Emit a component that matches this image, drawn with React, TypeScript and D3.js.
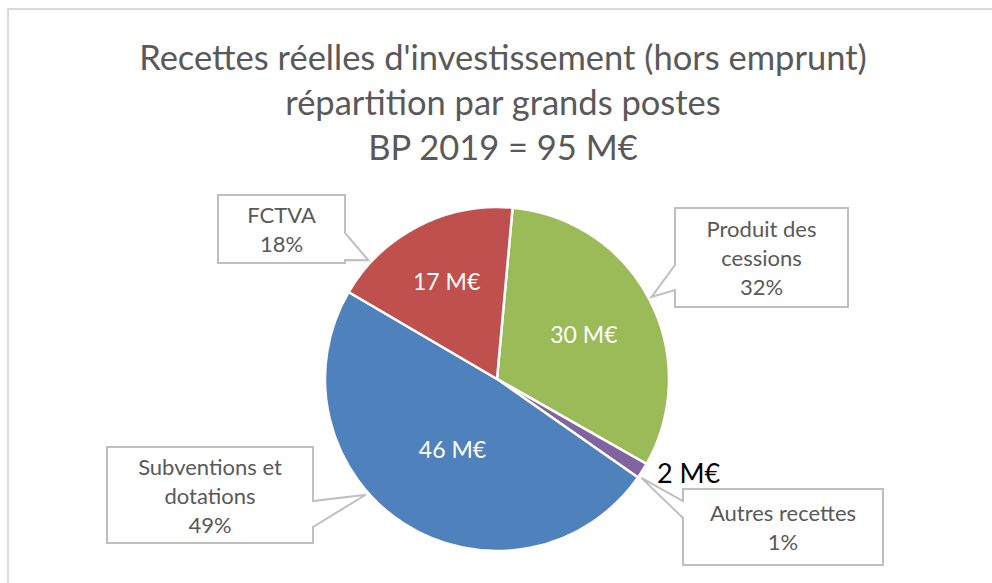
import React from 'react';
import * as d3 from 'd3';

// chart data
const titleLines = [
  "Recettes réelles d'investissement (hors emprunt)",
  'répartition par grands postes',
  'BP 2019 = 95 M€',
];
const categories = ['Produit des cessions', 'Autres recettes', 'Subventions et dotations', 'FCTVA'];
const amounts = [30, 1.4, 46, 17];
const amountLabels = ['30 M€', '2 M€', '46 M€', '17 M€'];
const calloutLines = [['Produit des', 'cessions'], ['Autres recettes'], ['Subventions et', 'dotations'], ['FCTVA']];
const sliceColors = ['#9BBB59', '#8064A2', '#4F81BD', '#C0504D'];

// layout (boxes placed by hand, like the Excel callouts)
const W = 992, H = 583;
const cx = 497, cy = 379, radius = 172;
const firstSliceDeg = 5.2;
const labelRadius = [0.57, 1.1, 0.48, 0.64]; // fraction of radius, per slice
const FONT = 'Lato, "Open Sans", sans-serif';
const TEXT_GRAY = '#595959';

const calloutLayout = [
  { x: 675, y: 208, w: 173, h: 99, side: 'left', base: [265, 290], tipDeg: 62 },
  { x: 683, y: 489, w: 200, h: 76, side: 'left', base: [501, 518], tipDeg: 124.4 },
  { x: 107, y: 447, w: 206, h: 96, side: 'right', base: [501, 527], tipDeg: 228.6 },
  { x: 218, y: 195, w: 127, h: 68, side: 'right', base: [233, 260], tipDeg: 312.7 },
];

const toRad = (deg: number) => (deg * Math.PI) / 180;

function calloutPath(b: any, tip: [number, number]) {
  const p = d3.path();
  const r = b.x + b.w, bot = b.y + b.h;
  if (b.side === 'left') {
    p.moveTo(b.x, b.y);
    p.lineTo(r, b.y);
    p.lineTo(r, bot);
    p.lineTo(b.x, bot);
    p.lineTo(b.x, b.base[1]);
    p.lineTo(tip[0], tip[1]);
    p.lineTo(b.x, b.base[0]);
  } else {
    p.moveTo(b.x, b.y);
    p.lineTo(r, b.y);
    p.lineTo(r, b.base[0]);
    p.lineTo(tip[0], tip[1]);
    p.lineTo(r, b.base[1]);
    p.lineTo(r, bot);
    p.lineTo(b.x, bot);
  }
  p.closePath();
  return p.toString();
}

export default function App() {
  const total = d3.sum(amounts);
  const start = toRad(firstSliceDeg);
  const pie = d3.pie<number>().sort(null).startAngle(start).endAngle(start + 2 * Math.PI).value(d => d);
  const arcs = pie(amounts);
  const arc = d3.arc<d3.PieArcDatum<number>>().innerRadius(0).outerRadius(radius);
  const pct = d3.format('.0%');

  return (
    <svg width={W} height={H} style={{ position: 'absolute', left: 0, top: 0, background: '#fff' }}>
      <rect x={8} y={9} width={1000} height={600} fill="#fff" stroke="#D9D9D9" strokeWidth={2} />

      {titleLines.map((t, i) => (
        <text key={i} x={503} y={56 + i * 45} textAnchor="middle" dominantBaseline="central"
          fontFamily={FONT} fontSize={34.5} fill={TEXT_GRAY}>{t}</text>
      ))}

      <g transform={`translate(${cx},${cy})`}>
        {arcs.map((a, i) => (
          <path key={categories[i]} d={arc(a) || ''} fill={sliceColors[i]} stroke="#fff" strokeWidth={2.5} />
        ))}
        {arcs.map((a, i) => {
          const small = (a.endAngle - a.startAngle) < 0.3;
          const lr = radius * labelRadius[i];
          const [lx, ly] = d3.arc<d3.PieArcDatum<number>>().innerRadius(lr).outerRadius(lr).centroid(a);
          return (
            <text key={'v' + i} x={lx} y={ly - (small ? 8 : 0)} textAnchor={small ? 'start' : 'middle'}
              dominantBaseline="central" fontFamily={FONT} fontSize={small ? 27 : 23}
              fill={small ? '#000' : '#fff'}>{amountLabels[i]}</text>
          );
        })}
      </g>

      {calloutLayout.map((b, i) => {
        const ang = toRad(b.tipDeg);
        const tip: [number, number] = [cx + (radius + 3) * Math.sin(ang), cy - (radius + 3) * Math.cos(ang)];
        const lines = [...calloutLines[i], pct(amounts[i] / total)];
        const mid = b.y + b.h / 2;
        const lh = 29;
        return (
          <g key={'c' + i}>
            <path d={calloutPath(b, tip)} fill="#fff" stroke="#BFBFBF" strokeWidth={2} />
            {lines.map((l, j) => (
              <text key={j} x={b.x + b.w / 2} y={mid + (j - (lines.length - 1) / 2) * lh}
                textAnchor="middle" dominantBaseline="central" fontFamily={FONT} fontSize={22}
                fill={TEXT_GRAY}>{l}</text>
            ))}
          </g>
        );
      })}
    </svg>
  );
}
